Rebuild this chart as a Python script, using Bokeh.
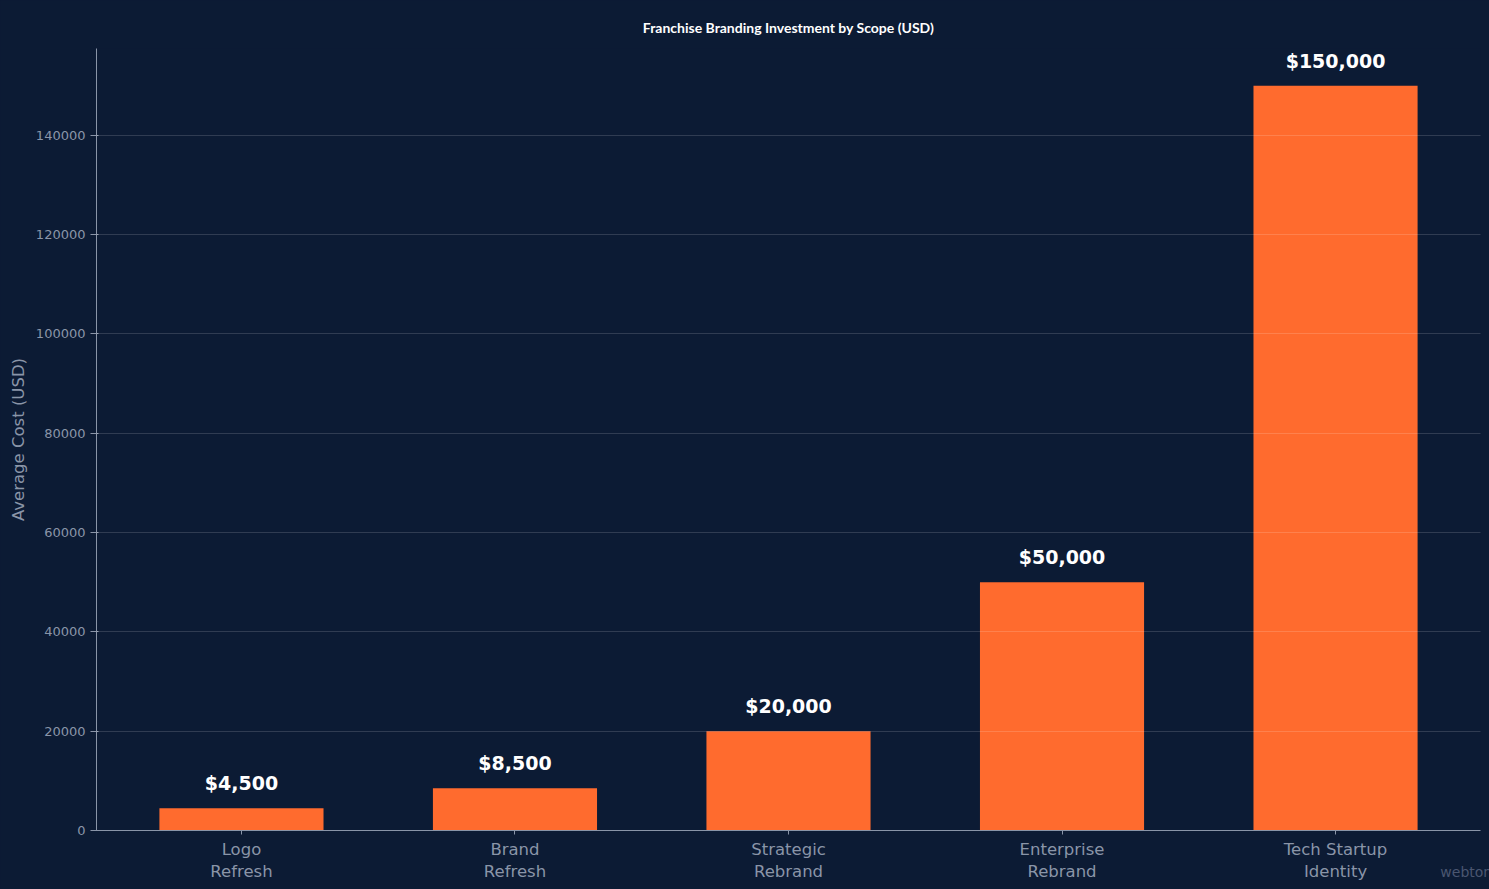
from bokeh.plotting import figure
from bokeh.models import ColumnDataSource, Range1d, FactorRange, NumeralTickFormatter, FixedTicker
from bokeh.core.properties import value
from bokeh.embed import file_html
from bokeh.resources import INLINE

categories = ["Logo\nRefresh", "Brand\nRefresh", "Strategic\nRebrand", "Enterprise\nRebrand", "Tech Startup\nIdentity"]
costs = [4500, 8500, 20000, 50000, 150000]
labels = ["$4,500", "$8,500", "$20,000", "$50,000", "$150,000"]
y_ticks = [0, 20000, 40000, 60000, 80000, 100000, 120000, 140000]
title_text = "Franchise Branding Investment by Scope (USD)"
watermark = "webtonic.io"

BG = "#0c1b34"
ORANGE = "#ff6b2e"
MUTED = "#8a95a8"

src = ColumnDataSource(dict(cat=categories, cost=costs, lab=labels))

p = figure(x_range=FactorRange(*categories, range_padding=0.03, range_padding_units="absolute"),
           width=1489, height=889, output_backend="svg",
           toolbar_location=None, background_fill_color=BG, border_fill_color=BG,
           min_border_left=96, min_border_right=9,
           min_border_top=48, min_border_bottom=59)
p.outline_line_color = None
p.y_range = Range1d(0, 157500)

p.vbar(x="cat", top="cost", width=0.6, source=src, color=ORANGE, line_color=None)
p.text(x="cat", y="cost", text="lab", source=src, text_align="center", text_baseline="bottom",
       y_offset=-14, text_color="white", text_font=value("DejaVu Sans"),
       text_font_style="bold", text_font_size="19px")

p.title.text = title_text
p.title.text_font = "Lato"
p.title.text_font_style = "bold"
p.title.text_font_size = "14px"
p.title.text_color = "white"
p.title.align = "center"
p.title.offset = 0
p.title.standoff = 26

xa = p.below[0]
ya = p.left[0]

p.xgrid.grid_line_color = None
p.ygrid.grid_line_color = "white"
p.ygrid.grid_line_alpha = 0.15
p.ygrid.level = "overlay"
p.ygrid.ticker = FixedTicker(ticks=y_ticks)

ya.ticker = FixedTicker(ticks=y_ticks)
ya.formatter = NumeralTickFormatter(format="0")
ya.axis_label = "Average Cost (USD)"
ya.axis_label_text_font = "DejaVu Sans"
ya.axis_label_text_font_style = "normal"
ya.axis_label_text_font_size = "16.5px"
ya.axis_label_text_color = MUTED
ya.major_label_text_font_size = "13px"
ya.major_label_text_color = MUTED
ya.minor_tick_line_color = None

xa.major_label_text_font_size = "16.5px"
xa.major_label_text_color = MUTED
xa.major_tick_in = 0
xa.major_tick_out = 4

for ax in (xa, ya):
    ax.axis_line_color = MUTED
    ax.major_tick_line_color = MUTED
    ax.major_label_text_font = "DejaVu Sans"

# watermark drawn as the x axis label, pulled up beside the last tick label
xa.axis_label = watermark
xa.axis_label_align = "end"
xa.axis_label_standoff = -20
xa.axis_label_text_font = "DejaVu Sans"
xa.axis_label_text_font_style = "normal"
xa.axis_label_text_font_size = "14px"
xa.axis_label_text_color = "#4a5670"

html = file_html(p, INLINE)
html = html.replace("<head>", "<head><style>html,body{background:%s;margin:0;}</style>" % BG, 1)
open("out.html", "w").write(html)
